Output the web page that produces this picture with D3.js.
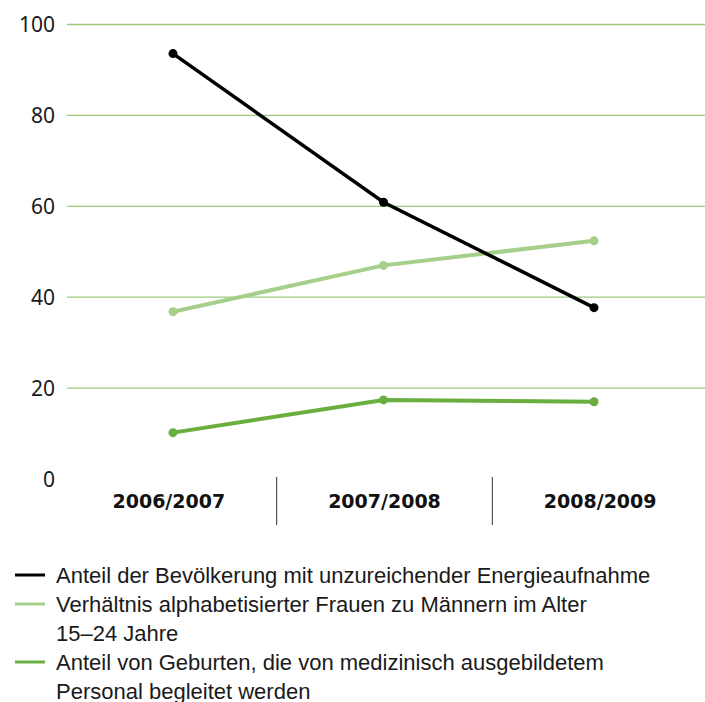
<!DOCTYPE html>
<html>
<head>
<meta charset="utf-8">
<script src="https://cdn.jsdelivr.net/npm/d3@7"></script>
<style>
  body { margin: 0; background: #fff; }
  text { font-family: "Liberation Sans", Arial, sans-serif; }
</style>
</head>
<body>
<div id="chart"></div>
<script>
// categories and series
const years = ["2006/2007", "2007/2008", "2008/2009"];
const energie = [93.6, 60.9, 37.7];
const alphabet = [36.8, 47.0, 52.4];
const geburten = [10.2, 17.4, 17.0];
const yTicks = [0, 20, 40, 60, 80, 100];

const legendLabels = [
  ["Anteil der Bevölkerung mit unzureichender Energieaufnahme"],
  ["Verhältnis alphabetisierter Frauen zu Männern im Alter", "15–24 Jahre"],
  ["Anteil von Geburten, die von medizinisch ausgebildetem", "Personal begleitet werden"]
];
const colors = ["#000000", "#a5cf8b", "#6aae3f"];

const series = [energie, alphabet, geburten];

const width = 705, height = 702;

const svg = d3.select("#chart")
  .append("svg")
  .attr("width", width)
  .attr("height", height);

// scales
const y = d3.scaleLinear().domain([0, 100]).range([479, 24.5]);
const xBand = d3.scaleBand().domain(years).range([61, 708]);
const xPoint = d3.scalePoint().domain(years).range([173, 594]);

// grid lines (no line at 0)
svg.append("g")
  .selectAll("line")
  .data(yTicks.filter(d => d > 0))
  .enter()
  .append("line")
  .attr("x1", 67)
  .attr("x2", width)
  .attr("y1", d => y(d))
  .attr("y2", d => y(d))
  .attr("stroke", "#9ccb7e")
  .attr("stroke-width", 1.3);

// y tick labels
svg.append("g")
  .selectAll("text")
  .data(yTicks)
  .enter()
  .append("text")
  .attr("x", 55)
  .attr("y", d => y(d))
  .attr("dy", "0.36em")
  .attr("text-anchor", "end")
  .style("font-family", "'Noto Sans', 'Open Sans', sans-serif")
  .style("font-size", "21px")
  .attr("fill", "#1a1a1a")
  .text(d => d);

// x labels
svg.append("g")
  .selectAll("text")
  .data(years)
  .enter()
  .append("text")
  .attr("x", d => xBand(d) + xBand.bandwidth() / 2)
  .attr("y", 508)
  .attr("text-anchor", "middle")
  .style("font-family", "'DejaVu Sans', sans-serif")
  .style("font-weight", "bold")
  .style("font-size", "19px")
  .attr("fill", "#111")
  .text(d => d);

// separators between categories
svg.append("g")
  .selectAll("line")
  .data(years.slice(1))
  .enter()
  .append("line")
  .attr("x1", d => xBand(d))
  .attr("x2", d => xBand(d))
  .attr("y1", 477)
  .attr("y2", 525)
  .attr("stroke", "#333")
  .attr("stroke-width", 1);

// lines and points, black drawn on top
const line = d3.line()
  .x((d, i) => xPoint(years[i]))
  .y(d => y(d));

const order = [2, 1, 0];
order.forEach(function (s) {
  const g = svg.append("g");
  g.append("path")
    .datum(series[s])
    .attr("d", line)
    .attr("fill", "none")
    .attr("stroke", colors[s])
    .attr("stroke-width", s == 0 ? 3.5 : 4);
  g.selectAll("circle")
    .data(series[s])
    .enter()
    .append("circle")
    .attr("cx", (d, i) => xPoint(years[i]))
    .attr("cy", d => y(d))
    .attr("r", 4.5)
    .attr("fill", colors[s]);
});

// legend
let rowY = 575;
const legend = svg.append("g");
legendLabels.forEach(function (rows, i) {
  legend.append("line")
    .attr("x1", 15)
    .attr("x2", 45)
    .attr("y1", rowY)
    .attr("y2", rowY)
    .attr("stroke", colors[i])
    .attr("stroke-width", 3);
  rows.forEach(function (r) {
    legend.append("text")
      .attr("x", 56)
      .attr("y", rowY)
      .attr("dy", "0.35em")
      .style("font-size", "22px")
      .attr("fill", "#1a1a1a")
      .text(r);
    rowY += 29;
  });
});
</script>
</body>
</html>
